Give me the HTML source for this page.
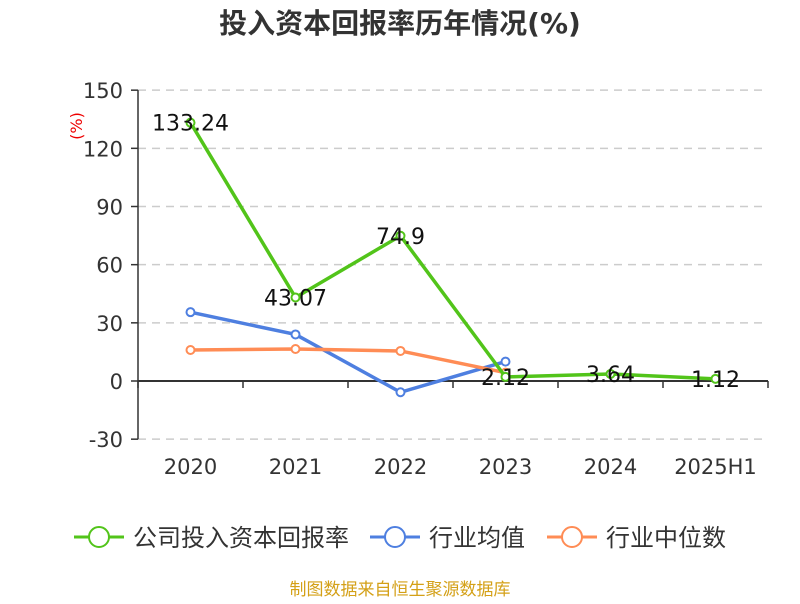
<!DOCTYPE html>
<html><head><meta charset="utf-8"><style>
body{margin:0;background:#fff;font-family:"DejaVu Sans","Noto Sans CJK SC",sans-serif;}
</style></head><body>
<svg width="800" height="600" xmlns="http://www.w3.org/2000/svg" font-family="DejaVu Sans, Noto Sans CJK SC, sans-serif">
<text x="400" y="33" text-anchor="middle" font-size="28" font-weight="bold" fill="#333">投入资本回报率历年情况(%)</text>
<text transform="translate(82,126) rotate(-90)" text-anchor="middle" font-size="16" fill="#e00">(%)</text>
<g id="grid"></g><g id="axes"></g><g id="series"></g><g id="labels"></g>
<g font-size="24" fill="#333">
<g><line x1="74" y1="537" x2="124" y2="537" stroke="#52c41a" stroke-width="3"/><circle cx="99" cy="537" r="10" fill="#fff" stroke="#52c41a" stroke-width="2"/><text x="133" y="546">公司投入资本回报率</text></g>
<g><line x1="370" y1="537" x2="420" y2="537" stroke="#4e7fe0" stroke-width="3"/><circle cx="395" cy="537" r="10" fill="#fff" stroke="#4e7fe0" stroke-width="2"/><text x="429" y="546">行业均值</text></g>
<g><line x1="547" y1="537" x2="597" y2="537" stroke="#ff8c55" stroke-width="3"/><circle cx="572" cy="537" r="10" fill="#fff" stroke="#ff8c55" stroke-width="2"/><text x="606" y="546">行业中位数</text></g>
</g>
<text x="400" y="595" text-anchor="middle" font-size="17" fill="#d4a017">制图数据来自恒生聚源数据库</text>
</svg>
<script>
const categories=["2020","2021","2022","2023","2024","2025H1"];
const companyVals=[133.24,43.07,74.9,2.12,3.64,1.12];
const avgVals=[35.5,24,-5.8,10];
const medianVals=[16,16.5,15.5,4.3];
const yTicks=[-30,0,30,60,90,120,150];
const NS="http://www.w3.org/2000/svg";
const X0=138,X1=768,bw=(X1-X0)/categories.length;
const x=i=>X0+bw*(i+0.5);
const y=v=>381-(v)*(349/180);
function mk(t,a,p){const e=document.createElementNS(NS,t);for(const k in a)e.setAttribute(k,a[k]);p.appendChild(e);return e;}
const grid=document.getElementById('grid'),axes=document.getElementById('axes'),ser=document.getElementById('series'),lab=document.getElementById('labels');
yTicks.forEach(t=>{
  if(t!==0){const g=mk('line',{x1:X0,x2:X1,y1:y(t),y2:y(t),stroke:'#ccc','stroke-dasharray':'8,6','stroke-width':1.5},grid);
  
  }
  const tk=mk('line',{x1:X0-7,x2:X0,y1:y(t),y2:y(t),stroke:'#333','stroke-width':1.5},axes);
  
  
  const tx=mk('text',{x:X0-15,y:y(t)+8,'text-anchor':'end','font-size':21,fill:'#333'},axes);tx.textContent=t;
  
  
});
const ya=mk('line',{x1:X0,x2:X0,y1:y(150),y2:y(-30),stroke:'#333','stroke-width':1.5},axes);


const xa=mk('line',{x1:X0,x2:X1,y1:y(0),y2:y(0),stroke:'#333','stroke-width':2},axes);


for(let i=0;i<=categories.length;i++){const tk=mk('line',{x1:X0+bw*i,x2:X0+bw*i,y1:y(0),y2:y(0)+7,stroke:'#333','stroke-width':1.5},axes);

}
categories.forEach((c,i)=>{const t=mk('text',{x:x(i),y:474,'text-anchor':'middle','font-size':21,fill:'#333'},axes);t.textContent=c;

});
function series(vals,color,name){
  const p=mk('polyline',{points:vals.map((v,i)=>x(i)+','+y(v)).join(' '),fill:'none',stroke:color,'stroke-width':3.5},ser);
  
  
  vals.forEach((v,i)=>{const c=mk('circle',{cx:x(i),cy:y(v),r:4,fill:'#fff',stroke:color,'stroke-width':2},ser);
  
  });
}
series(avgVals,'#4e7fe0','industry-avg');
series(medianVals,'#ff8c55','industry-median');
series(companyVals,'#52c41a','company');
companyVals.forEach((v,i)=>{const t=mk('text',{x:x(i),y:y(v)+8,'text-anchor':'middle','font-size':22,fill:'#111'},lab);t.textContent=v;

});
</script>
</body></html>
